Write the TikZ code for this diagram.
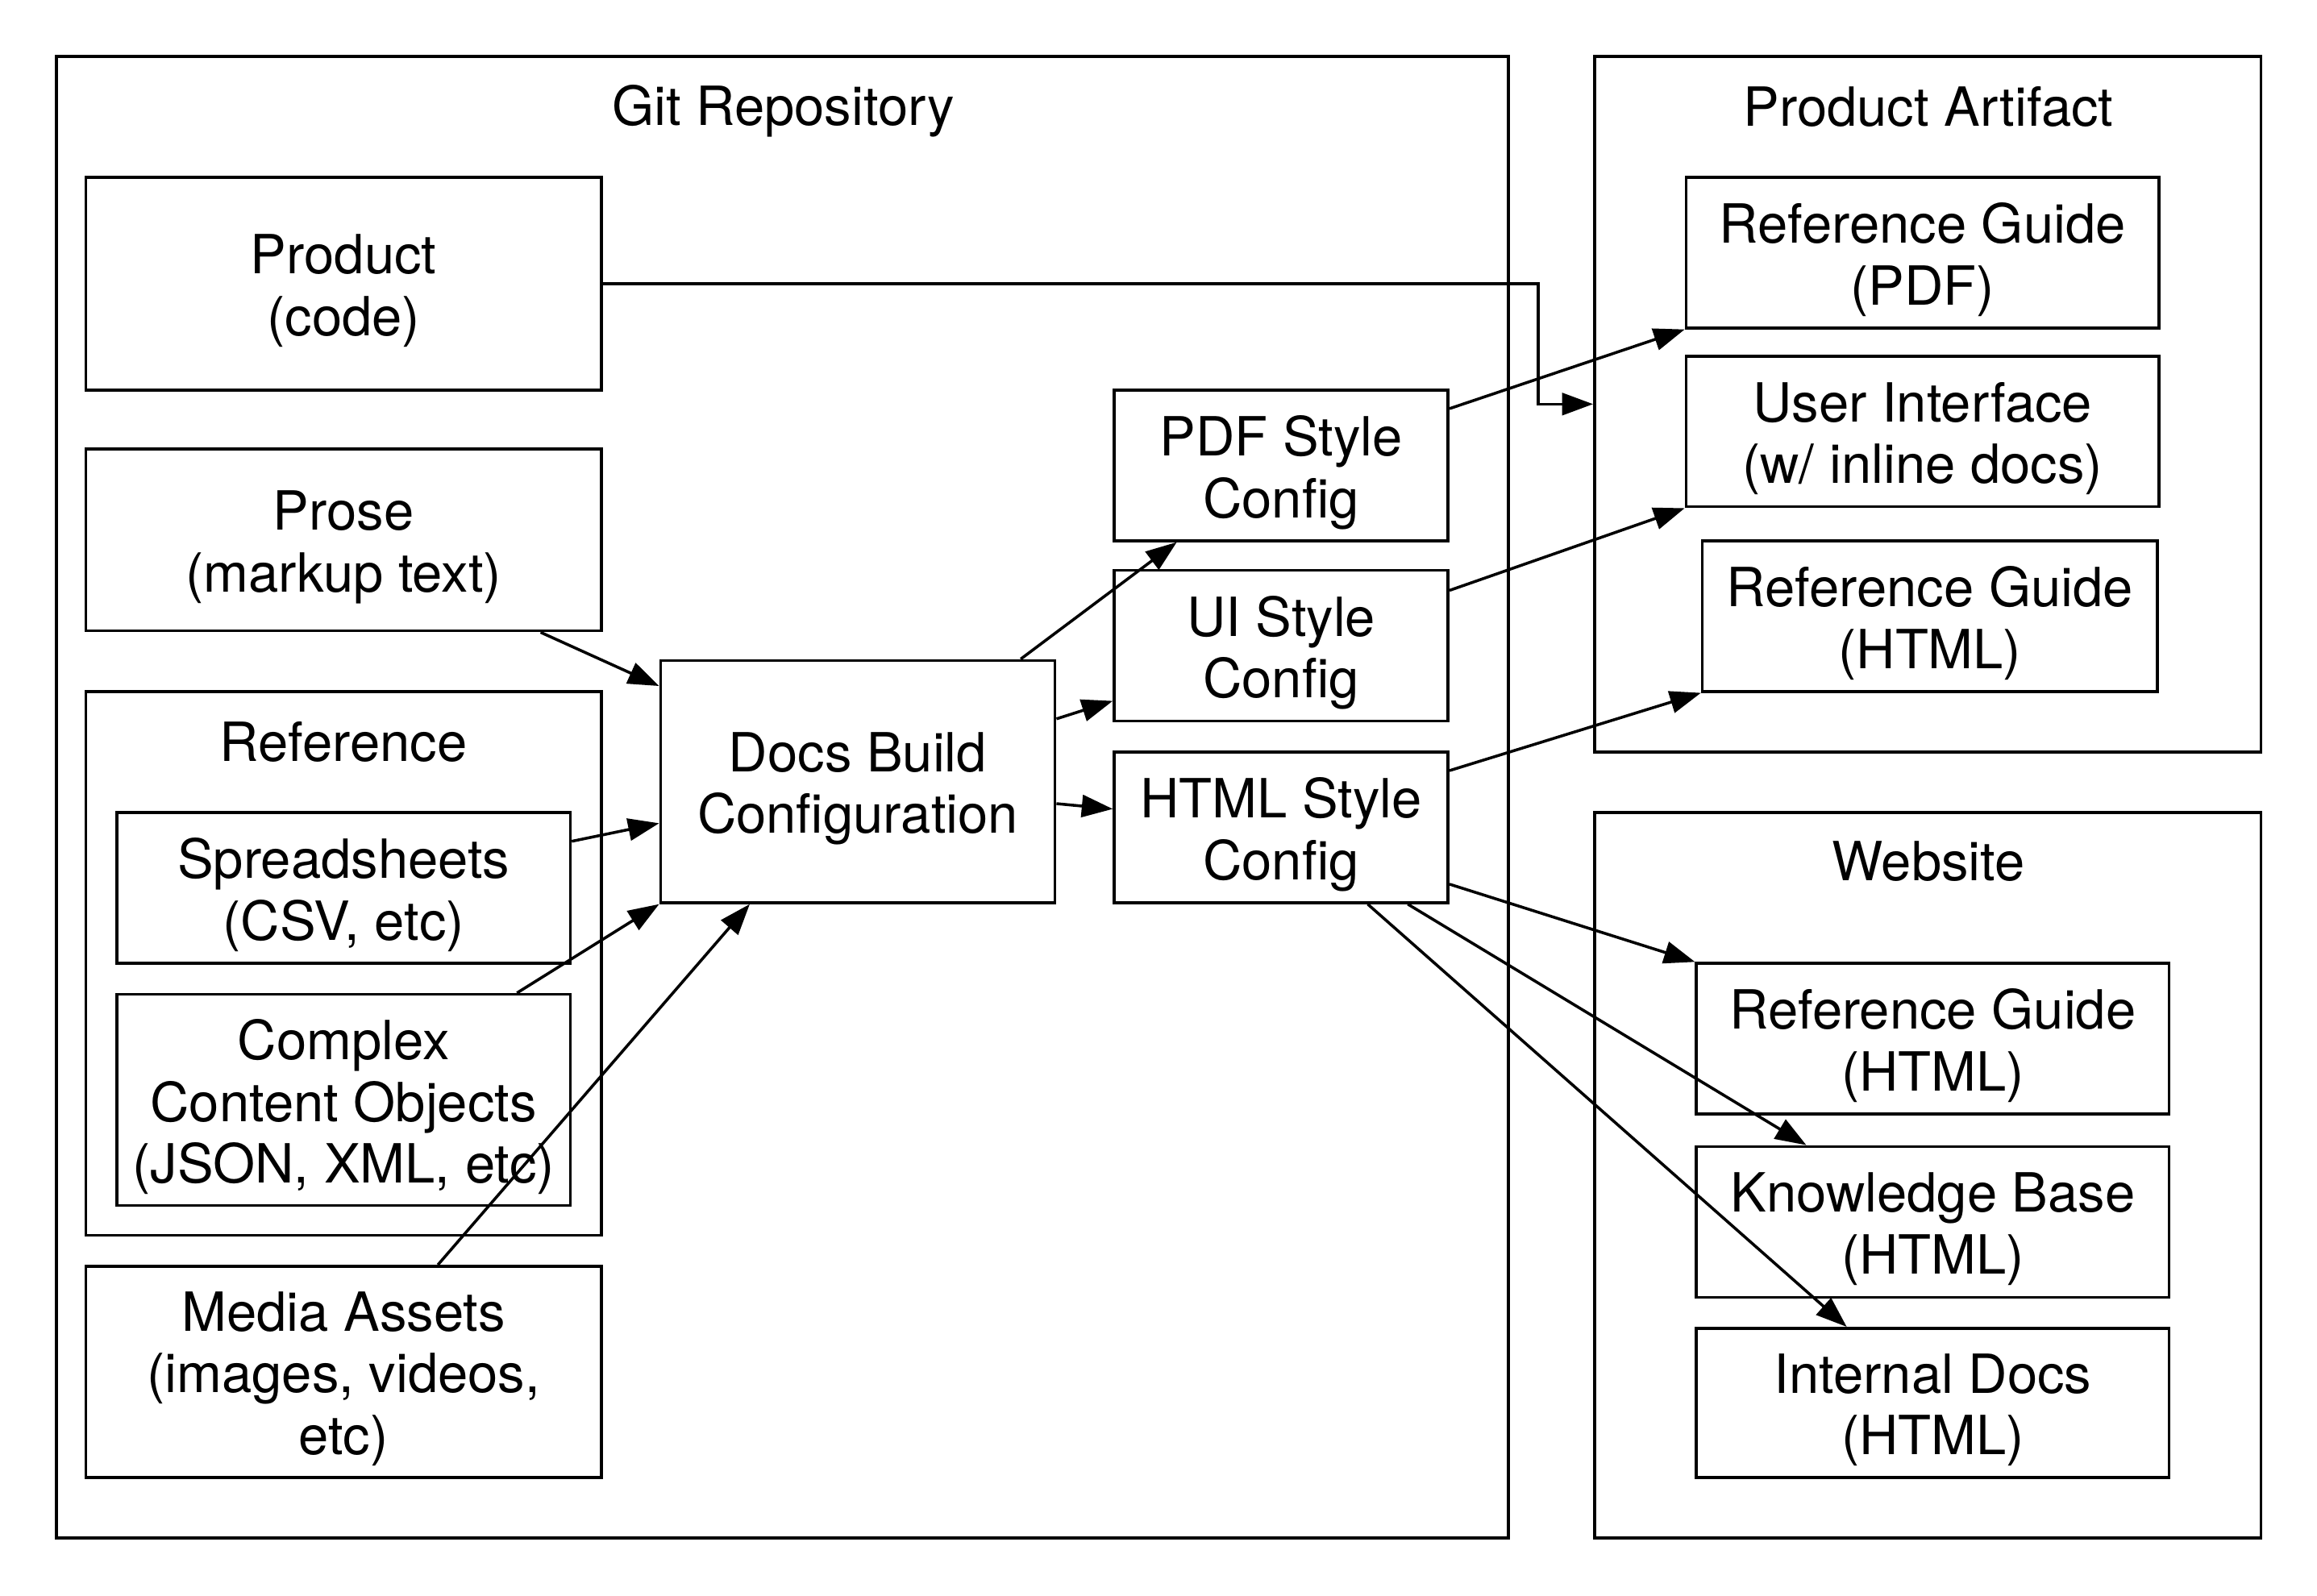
\documentclass[tikz,border=0pt]{standalone}
\usepackage{fontspec}
\setmainfont{TeX Gyre Heros}
\usetikzlibrary{arrows.meta,calc}
\begin{document}
\begin{tikzpicture}[x=0.02cm,y=-0.02cm,
  every node/.style={font=\fontsize{20.8}{23.8}\selectfont},
  box/.style={draw=black,line width=1.1pt,inner sep=0pt},
  txt/.style={inner sep=0pt,align=center,yshift=-0.095cm},
  title/.style={inner sep=0pt},
  arr/.style={line width=1.1pt,-{Triangle[length=0.42cm,width=0.3cm]}}]
\useasboundingbox (0,0) rectangle (1568,1080);
\fill[white] (0,0) rectangle (1568,1080);
% containers
\node[box,minimum width=19.66cm,minimum height=20.06cm] (git) at (529.5,539.5) {};
\node[title] (gittitle) at (530,75) {Git Repository};
\node[box,minimum width=9.02cm,minimum height=9.42cm] (art) at (1304.5,273.5) {};
\node[title] (arttitle) at (1305,72) {Product Artifact};
\node[box,minimum width=9.02cm,minimum height=9.82cm] (web) at (1304.5,795.5) {};
\node[title] (webtitle) at (1305,583) {Website};
% left column
\node[box,minimum width=6.98cm,minimum height=2.88cm] (product) at (232.5,192) {};
\node[txt] (producttxt) at (product) {Product\\(code)};
\node[box,minimum width=6.98cm,minimum height=2.46cm] (prose) at (232.5,365.5) {};
\node[txt] (prosetxt) at (prose) {Prose\\(markup text)};
\node[box,minimum width=6.98cm,minimum height=7.36cm] (ref) at (232.5,652) {};
\node[title] (reftitle) at (232.5,502) {Reference};
\node[box,minimum width=6.14cm,minimum height=2.04cm] (sheets) at (232.5,601) {};
\node[txt] (sheetstxt) at (sheets) {Spreadsheets\\(CSV, etc)};
\node[box,minimum width=6.14cm,minimum height=2.86cm] (complex) at (232.5,744.5) {};
\node[txt] (complextxt) at (complex) {Complex\\Content Objects\\(JSON, XML, etc)};
\node[box,minimum width=6.98cm,minimum height=2.86cm] (media) at (232.5,928.5) {};
\node[txt] (mediatxt) at (media) {Media Assets\\(images, videos,\\etc)};
% middle
\node[box,minimum width=5.34cm,minimum height=3.28cm] (docs) at (580.5,529) {};
\node[txt] (docstxt) at (docs) {Docs Build\\Configuration};
\node[box,minimum width=4.52cm,minimum height=2.04cm] (pdfs) at (867,315) {};
\node[txt] (pdfstxt) at (pdfs) {PDF Style\\Config};
\node[box,minimum width=4.52cm,minimum height=2.04cm] (uis) at (867,437) {};
\node[txt] (uistxt) at (uis) {UI Style\\Config};
\node[box,minimum width=4.52cm,minimum height=2.04cm] (htmls) at (867,560) {};
\node[txt] (htmlstxt) at (htmls) {HTML Style\\Config};
% artifact
\node[box,minimum width=6.4cm,minimum height=2.04cm] (rgpdf) at (1301,171) {};
\node[txt] (rgpdftxt) at (rgpdf) {Reference Guide\\(PDF)};
\node[box,minimum width=6.4cm,minimum height=2.04cm] (uiart) at (1301,292) {};
\node[txt] (uiarttxt) at (uiart) {User Interface\\(w/ inline docs)};
\node[box,minimum width=6.16cm,minimum height=2.04cm] (rghtml) at (1306,417) {};
\node[txt] (rghtmltxt) at (rghtml) {Reference Guide\\(HTML)};
% website
\node[box,minimum width=6.4cm,minimum height=2.04cm] (wrg) at (1308,703) {};
\node[txt] (wrgtxt) at (wrg) {Reference Guide\\(HTML)};
\node[box,minimum width=6.4cm,minimum height=2.04cm] (kb) at (1308,827) {};
\node[txt] (kbtxt) at (kb) {Knowledge Base\\(HTML)};
\node[box,minimum width=6.4cm,minimum height=2.02cm] (intd) at (1308,949.5) {};
\node[txt] (intdtxt) at (intd) {Internal Docs\\(HTML)};
% connectors
\coordinate (jog) at (1041,0);
\draw[arr] (product.east) -- (product.east -| jog) |- (art.west);
\draw[arr] ($(prose.south west)!0.88!(prose.south east)$) -- ($(docs.north west)!0.11!(docs.south west)$);
\draw[arr] ($(sheets.north east)!0.196!(sheets.south east)$) -- ($(docs.north west)!0.67!(docs.south west)$);
\draw[arr] ($(complex.north west)!0.88!(complex.north east)$) -- (docs.south west);
\draw[arr] ($(media.north west)!0.682!(media.north east)$) -- ($(docs.south west)!0.228!(docs.south east)$);
\draw[arr] ($(docs.north west)!0.91!(docs.north east)$) -- ($(pdfs.south west)!0.19!(pdfs.south east)$);
\draw[arr] ($(docs.north east)!0.244!(docs.south east)$) -- ($(uis.north west)!0.86!(uis.south west)$);
\draw[arr] ($(docs.north east)!0.59!(docs.south east)$) -- ($(htmls.north west)!0.38!(htmls.south west)$);
\draw[arr] ($(pdfs.north east)!0.13!(pdfs.south east)$) -- (rgpdf.south west);
\draw[arr] ($(uis.north east)!0.14!(uis.south east)$) -- (uiart.south west);
\draw[arr] ($(htmls.north east)!0.13!(htmls.south east)$) -- (rghtml.south west);
\draw[arr] ($(htmls.north east)!0.87!(htmls.south east)$) -- (wrg.north west);
\draw[arr] ($(htmls.south west)!0.876!(htmls.south east)$) -- ($(kb.north west)!0.234!(kb.north east)$);
\draw[arr] ($(htmls.south west)!0.757!(htmls.south east)$) -- ($(intd.north west)!0.319!(intd.north east)$);
\end{tikzpicture}
\end{document}
